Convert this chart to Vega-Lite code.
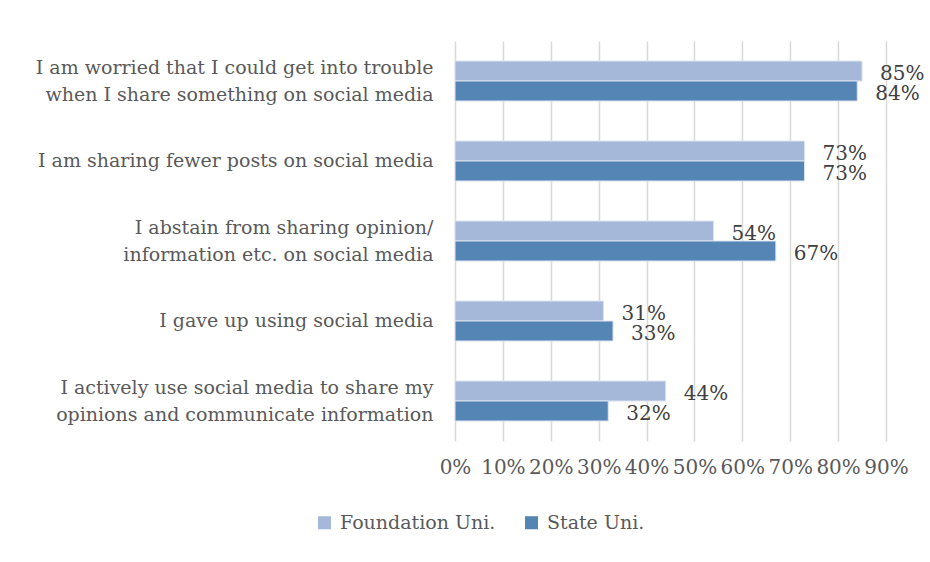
{
  "$schema": "https://vega.github.io/schema/vega-lite/v6.json",
  "width": 431,
  "height": 400,
  "padding": {"left": 20, "top": 41, "right": 45, "bottom": 30},
  "background": "white",
  "config": {
    "font": "DejaVu Serif",
    "view": {"stroke": null}
  },
  "data": {
    "values": [
      {"order": 1, "statement": "I am worried that I could get into trouble|when I share something on social media", "series": "Foundation Uni.", "value": 0.85, "label": "85%"},
      {"order": 1, "statement": "I am worried that I could get into trouble|when I share something on social media", "series": "State Uni.", "value": 0.84, "label": "84%"},
      {"order": 2, "statement": "I am sharing fewer posts on social media", "series": "Foundation Uni.", "value": 0.73, "label": "73%"},
      {"order": 2, "statement": "I am sharing fewer posts on social media", "series": "State Uni.", "value": 0.73, "label": "73%"},
      {"order": 3, "statement": "I abstain from sharing opinion/|information etc. on social media ", "series": "Foundation Uni.", "value": 0.54, "label": "54%"},
      {"order": 3, "statement": "I abstain from sharing opinion/|information etc. on social media ", "series": "State Uni.", "value": 0.67, "label": "67%"},
      {"order": 4, "statement": "I gave up using social media", "series": "Foundation Uni.", "value": 0.31, "label": "31%"},
      {"order": 4, "statement": "I gave up using social media", "series": "State Uni.", "value": 0.33, "label": "33%"},
      {"order": 5, "statement": "I actively use social media to share my |opinions and communicate information", "series": "Foundation Uni.", "value": 0.44, "label": "44%"},
      {"order": 5, "statement": "I actively use social media to share my |opinions and communicate information", "series": "State Uni.", "value": 0.32, "label": "32%"}
    ]
  },
  "encoding": {
    "y": {
      "field": "statement",
      "type": "nominal",
      "sort": [
        "I am worried that I could get into trouble|when I share something on social media",
        "I am sharing fewer posts on social media",
        "I abstain from sharing opinion/|information etc. on social media ",
        "I gave up using social media",
        "I actively use social media to share my |opinions and communicate information"
      ],
      "scale": {"paddingInner": 0.5, "paddingOuter": 0.25},
      "axis": {
        "title": null,
        "ticks": false,
        "domain": false,
        "labelFontSize": 19,
        "labelColor": "#595959",
        "labelPadding": 22,
        "labelLimit": 500,
        "labelLineHeight": 27,
        "labelExpr": "split(datum.label, '|')",
        "labelOffset": {"condition": {"test": "indexof(datum.value, '|') >= 0", "value": -13}, "value": 0},
        "minExtent": 435,
        "maxExtent": 435
      }
    },
    "yOffset": {
      "field": "series",
      "type": "nominal",
      "sort": ["Foundation Uni.", "State Uni."]
    }
  },
  "layer": [
    {
      "mark": {"type": "bar", "stroke": "#dce4f0", "strokeWidth": 1},
      "encoding": {
        "x": {
          "field": "value",
          "type": "quantitative",
          "scale": {"domain": [0, 0.9], "nice": false},
          "axis": {
            "title": null,
            "format": ".0%",
            "values": [0, 0.1, 0.2, 0.3, 0.4, 0.5, 0.6, 0.7, 0.8, 0.9],
            "ticks": false,
            "domain": false,
            "grid": true,
            "gridColor": "#d9d9d9",
            "gridWidth": 1.5,
            "labelFontSize": 20,
            "labelColor": "#595959",
            "labelPadding": 16,
            "labelOverlap": false,
            "labelFlush": false
          }
        },
        "color": {
          "field": "series",
          "type": "nominal",
          "sort": ["Foundation Uni.", "State Uni."],
          "scale": {"domain": ["Foundation Uni.", "State Uni."], "range": ["#a5b8d9", "#5585b5"]},
          "legend": {
            "title": null,
            "orient": "none",
            "direction": "horizontal",
            "legendX": -140,
            "legendY": 472,
            "symbolType": "square",
            "symbolSize": 170,
            "symbolStrokeWidth": 0,
            "labelFontSize": 19,
            "labelLimit": 400,
            "labelColor": "#595959",
            "columnPadding": 26,
            "labelOffset": 6
          }
        }
      }
    },
    {
      "mark": {"type": "text", "align": "left", "baseline": "middle", "dx": 18, "dy": 3, "fontSize": 20, "color": "#404040"},
      "encoding": {
        "x": {"field": "value", "type": "quantitative"},
        "text": {"field": "label"}
      }
    }
  ]
}
